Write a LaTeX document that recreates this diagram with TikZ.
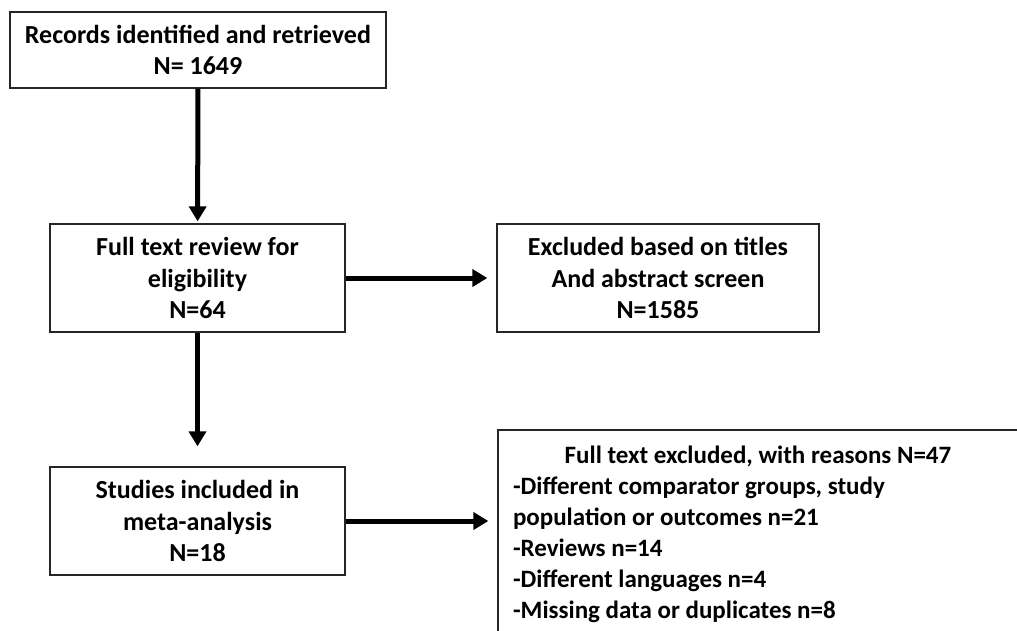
\documentclass[tikz,border=0pt]{standalone}
\usepackage{fontspec}
\setmainfont{Carlito}
\usetikzlibrary{arrows.meta}
\tikzstyle{box} = [rectangle, draw=black!85, line width=1.3pt, inner sep=0pt, align=center, font=\fontsize{26}{31.5}\selectfont\bfseries]
\tikzstyle{flow} = [line width=5pt, -{Triangle[length=15pt,width=17pt]}]

\begin{document}
\begin{tikzpicture}[x=1pt, y=-1pt]
                \useasboundingbox (0, 0) rectangle (1017, 630);
                \node [box, minimum width=376, minimum height=76] (records) at (198, 50) {Records identified and retrieved\\N= 1649};
                \node [box, minimum width=295, minimum height=108] (fulltext) at (197.5, 278) {Full text review for\\eligibility\\N=64};
                \node [box, minimum width=322, minimum height=108] (screened) at (658, 278) {Excluded based on titles\\And abstract screen\\N=1585};
                \node [box, minimum width=295, minimum height=108] (included) at (197.5, 521) {Studies included in\\meta-analysis\\N=18};
                \node [box, minimum width=520, minimum height=208, align=left, font=\fontsize{25}{31}\selectfont\bfseries] (reasons) at (758, 534) {\makebox[490pt]{Full text excluded, with reasons N=47}\\-Different comparator groups, study\\population or outcomes n=21\\-Reviews n=14\\-Different languages n=4\\-Missing data or duplicates n=8};
                \draw [flow, shorten >=2pt] (records) -- (fulltext);
                \draw [flow, shorten >=9pt] (fulltext) -- (screened);
                \draw [flow, shorten >=20pt] (fulltext) -- (included);
                \draw [flow, shorten >=9pt] (included.east) -- (included.east -| reasons.west);
            \end{tikzpicture}
\end{document}
